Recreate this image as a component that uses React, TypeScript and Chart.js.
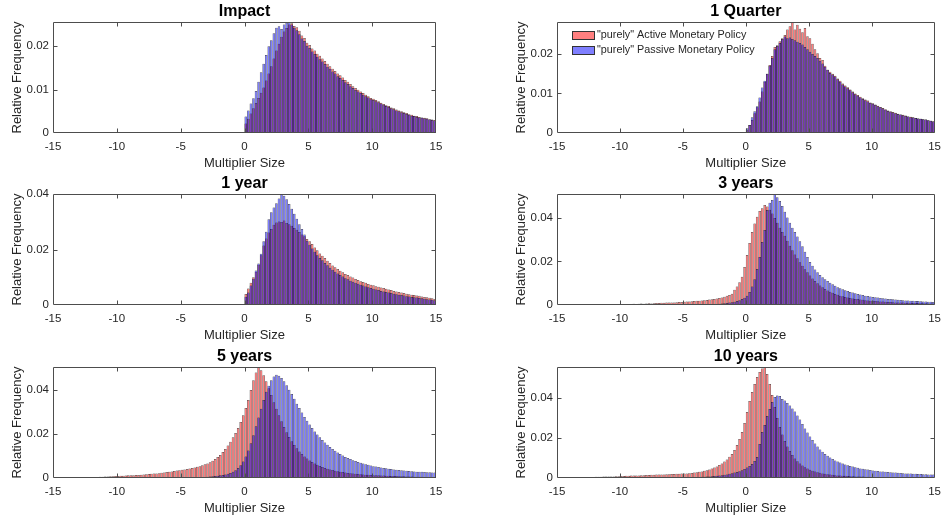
import React, { useEffect, useRef } from 'react';
import { Chart, registerables } from 'chart.js';

Chart.register(...registerables);

// ---------- data ----------
const BIN_WIDTH = 0.2;
const X_MIN = -15;
const X_MAX = 15;
const X_TICKS = [-15, -10, -5, 0, 5, 10, 15];
const SERIES_LABELS = ['"purely" Active Monetary Policy', '"purely" Passive Monetary Policy'];
const PANEL_TITLES = ['Impact', '1 Quarter', '1 year', '3 years', '5 years', '10 years'];
const Y_MAX = [0.0256, 0.0281, 0.0401, 0.051, 0.0505, 0.0555];
const Y_TICKS_SMALL = [0, 0.01, 0.02];
const Y_TICKS_LARGE = [0, 0.02, 0.04];
// centre of the first listed bin for each panel
const FIRST_BIN = [0.1, 0.1, 0.1, -14.9, -14.9, -14.9];

const impactActive = [
  0.0022, 0.0033, 0.0045, 0.0057, 0.0069, 0.0081, 0.0093, 0.0105, 0.0121, 0.0137,
  0.0154, 0.0172, 0.0190, 0.0206, 0.0222, 0.0234, 0.0242, 0.0250, 0.0253, 0.0247,
  0.0244, 0.0236, 0.0225, 0.0219, 0.0208, 0.0203, 0.0195, 0.0190, 0.0183, 0.0178,
  0.0172, 0.0166, 0.0160, 0.0154, 0.0148, 0.0143, 0.0137, 0.0133, 0.0128, 0.0122,
  0.0118, 0.0113, 0.0108, 0.0104, 0.0100, 0.0096, 0.0092, 0.0088, 0.0085, 0.0081,
  0.0079, 0.0076, 0.0073, 0.0070, 0.0067, 0.0064, 0.0062, 0.0059, 0.0057, 0.0054,
  0.0052, 0.0050, 0.0048, 0.0046, 0.0043, 0.0042, 0.0040, 0.0039, 0.0037, 0.0036,
  0.0035, 0.0034, 0.0032, 0.0031, 0.0030,
];
const impactPassive = [
  0.0038, 0.0052, 0.0068, 0.0080, 0.0097, 0.0118, 0.0140, 0.0160, 0.0180, 0.0200,
  0.0214, 0.0230, 0.0243, 0.0246, 0.0240, 0.0250, 0.0254, 0.0256, 0.0250, 0.0243,
  0.0237, 0.0228, 0.0218, 0.0212, 0.0201, 0.0196, 0.0188, 0.0182, 0.0176, 0.0170,
  0.0165, 0.0159, 0.0153, 0.0148, 0.0142, 0.0137, 0.0131, 0.0127, 0.0122, 0.0117,
  0.0113, 0.0108, 0.0104, 0.0099, 0.0096, 0.0092, 0.0088, 0.0085, 0.0082, 0.0078,
  0.0076, 0.0073, 0.0071, 0.0068, 0.0065, 0.0062, 0.0060, 0.0057, 0.0055, 0.0052,
  0.0050, 0.0048, 0.0046, 0.0044, 0.0042, 0.0040, 0.0039, 0.0037, 0.0036, 0.0035,
  0.0034, 0.0033, 0.0031, 0.0030, 0.0029,
];
const quarterActive = [
  0.0008, 0.0020, 0.0033, 0.0050, 0.0065, 0.0080, 0.0105, 0.0130, 0.0150, 0.0172,
  0.0195, 0.0218, 0.0222, 0.0232, 0.0240, 0.0248, 0.0262, 0.0270, 0.0281, 0.0262,
  0.0274, 0.0264, 0.0255, 0.0266, 0.0245, 0.0240, 0.0226, 0.0212, 0.0202, 0.0190,
  0.0185, 0.0170, 0.0160, 0.0155, 0.0150, 0.0145, 0.0138, 0.0132, 0.0125, 0.0120,
  0.0116, 0.0110, 0.0105, 0.0100, 0.0096, 0.0092, 0.0088, 0.0085, 0.0082, 0.0077,
  0.0075, 0.0072, 0.0069, 0.0066, 0.0063, 0.0060, 0.0057, 0.0055, 0.0053, 0.0051,
  0.0049, 0.0047, 0.0046, 0.0044, 0.0042, 0.0041, 0.0040, 0.0038, 0.0037, 0.0036,
  0.0035, 0.0034, 0.0032, 0.0031, 0.0030,
];
const quarterPassive = [
  0.0012, 0.0020, 0.0040, 0.0055, 0.0068, 0.0090, 0.0115, 0.0132, 0.0150, 0.0170,
  0.0190, 0.0212, 0.0220, 0.0228, 0.0238, 0.0244, 0.0240, 0.0242, 0.0238, 0.0235,
  0.0231, 0.0228, 0.0224, 0.0218, 0.0212, 0.0206, 0.0200, 0.0195, 0.0190, 0.0183,
  0.0176, 0.0168, 0.0160, 0.0152, 0.0148, 0.0143, 0.0136, 0.0130, 0.0123, 0.0118,
  0.0113, 0.0108, 0.0103, 0.0098, 0.0094, 0.0090, 0.0086, 0.0083, 0.0080, 0.0076,
  0.0074, 0.0071, 0.0068, 0.0065, 0.0062, 0.0059, 0.0056, 0.0054, 0.0052, 0.0050,
  0.0048, 0.0047, 0.0045, 0.0043, 0.0042, 0.0040, 0.0039, 0.0038, 0.0037, 0.0036,
  0.0035, 0.0034, 0.0032, 0.0031, 0.0029,
];
const year1Active = [
  0.0040, 0.0060, 0.0080, 0.0100, 0.0120, 0.0145, 0.0180, 0.0215, 0.0240, 0.0262,
  0.0275, 0.0290, 0.0298, 0.0302, 0.0300, 0.0305, 0.0296, 0.0292, 0.0286, 0.0278,
  0.0272, 0.0264, 0.0255, 0.0248, 0.0238, 0.0230, 0.0220, 0.0208, 0.0198, 0.0186,
  0.0178, 0.0170, 0.0160, 0.0152, 0.0143, 0.0136, 0.0130, 0.0124, 0.0118, 0.0112,
  0.0108, 0.0103, 0.0099, 0.0094, 0.0090, 0.0086, 0.0083, 0.0080, 0.0076, 0.0073,
  0.0071, 0.0068, 0.0066, 0.0063, 0.0061, 0.0059, 0.0056, 0.0054, 0.0051, 0.0049,
  0.0047, 0.0045, 0.0043, 0.0041, 0.0039, 0.0037, 0.0036, 0.0034, 0.0033, 0.0031,
  0.0029, 0.0028, 0.0026, 0.0024, 0.0022,
];
const year1Passive = [
  0.0030, 0.0045, 0.0070, 0.0095, 0.0125, 0.0150, 0.0185, 0.0230, 0.0265, 0.0310,
  0.0335, 0.0352, 0.0368, 0.0385, 0.0401, 0.0395, 0.0382, 0.0365, 0.0348, 0.0330,
  0.0312, 0.0292, 0.0275, 0.0255, 0.0232, 0.0218, 0.0204, 0.0192, 0.0180, 0.0170,
  0.0162, 0.0152, 0.0144, 0.0135, 0.0127, 0.0120, 0.0114, 0.0108, 0.0103, 0.0097,
  0.0093, 0.0088, 0.0084, 0.0080, 0.0077, 0.0073, 0.0070, 0.0067, 0.0064, 0.0061,
  0.0059, 0.0056, 0.0054, 0.0051, 0.0049, 0.0047, 0.0045, 0.0043, 0.0041, 0.0039,
  0.0037, 0.0036, 0.0034, 0.0032, 0.0031, 0.0029, 0.0028, 0.0027, 0.0025, 0.0024,
  0.0023, 0.0021, 0.0020, 0.0019, 0.0017,
];
const year3Active = [
  0, 0, 0, 0.0001, 0, 0, 0.0001, 0, 0.0001, 0.0001,
  0.0001, 0.0001, 0.0002, 0.0001, 0.0002, 0.0002, 0.0002, 0.0003, 0.0002, 0.0003,
  0.0003, 0.0003, 0.0004, 0.0003, 0.0004, 0.0004, 0.0005, 0.0004, 0.0005, 0.0005,
  0.0006, 0.0005, 0.0006, 0.0007, 0.0006, 0.0007, 0.0008, 0.0007, 0.0008, 0.0009,
  0.0009, 0.0010, 0.0010, 0.0011, 0.0011, 0.0012, 0.0012, 0.0013, 0.0014, 0.0014,
  0.0015, 0.0016, 0.0016, 0.0017, 0.0018, 0.0019, 0.0020, 0.0021, 0.0022, 0.0023,
  0.0025, 0.0026, 0.0028, 0.0030, 0.0032, 0.0035, 0.0038, 0.0042, 0.0046, 0.0052,
  0.0070, 0.0085, 0.0105, 0.0130, 0.0175, 0.0230, 0.0285, 0.0335, 0.0375, 0.0405,
  0.0432, 0.0445, 0.0460, 0.0452, 0.0438, 0.0420, 0.0400, 0.0378, 0.0355, 0.0335,
  0.0318, 0.0295, 0.0272, 0.0252, 0.0232, 0.0215, 0.0196, 0.0180, 0.0164, 0.0150,
  0.0136, 0.0122, 0.0110, 0.0100, 0.0090, 0.0082, 0.0074, 0.0067, 0.0061, 0.0056,
  0.0051, 0.0047, 0.0043, 0.0040, 0.0037, 0.0035, 0.0032, 0.0030, 0.0028, 0.0027,
  0.0025, 0.0024, 0.0022, 0.0021, 0.0020, 0.0019, 0.0018, 0.0017, 0.0016, 0.0016,
  0.0015, 0.0014, 0.0014, 0.0013, 0.0012, 0.0012, 0.0011, 0.0011, 0.0010, 0.0010,
  0.0010, 0.0009, 0.0009, 0.0009, 0.0008, 0.0008, 0.0008, 0.0007, 0.0007, 0.0007,
];
const year3Passive = [
  0, 0, 0, 0, 0, 0, 0, 0, 0, 0,
  0, 0, 0, 0, 0, 0, 0, 0, 0, 0,
  0, 0, 0, 0, 0, 0, 0, 0.0001, 0, 0,
  0, 0.0001, 0, 0, 0.0001, 0, 0.0001, 0, 0.0001, 0.0001,
  0.0001, 0, 0.0001, 0.0001, 0.0001, 0.0001, 0.0001, 0.0001, 0.0002, 0.0001,
  0.0001, 0.0001, 0.0002, 0.0001, 0.0002, 0.0002, 0.0002, 0.0003, 0.0003, 0.0003,
  0.0004, 0.0004, 0.0005, 0.0005, 0.0006, 0.0007, 0.0008, 0.0009, 0.0011, 0.0013,
  0.0015, 0.0018, 0.0022, 0.0027, 0.0033, 0.0042, 0.0060, 0.0085, 0.0118, 0.0165,
  0.0220, 0.0290, 0.0345, 0.0436, 0.0470, 0.0482, 0.0510, 0.0495, 0.0478, 0.0455,
  0.0428, 0.0402, 0.0378, 0.0355, 0.0335, 0.0315, 0.0293, 0.0270, 0.0245, 0.0220,
  0.0198, 0.0180, 0.0163, 0.0150, 0.0138, 0.0128, 0.0118, 0.0110, 0.0102, 0.0095,
  0.0088, 0.0082, 0.0077, 0.0072, 0.0068, 0.0064, 0.0060, 0.0057, 0.0054, 0.0051,
  0.0048, 0.0046, 0.0043, 0.0041, 0.0039, 0.0037, 0.0036, 0.0034, 0.0032, 0.0031,
  0.0030, 0.0028, 0.0027, 0.0026, 0.0025, 0.0024, 0.0023, 0.0022, 0.0021, 0.0021,
  0.0020, 0.0019, 0.0018, 0.0018, 0.0017, 0.0016, 0.0016, 0.0015, 0.0015, 0.0014,
];
const year5Active = [
  0.0001, 0.0001, 0.0002, 0.0001, 0.0002, 0.0002, 0.0002, 0.0003, 0.0002, 0.0003,
  0.0003, 0.0003, 0.0004, 0.0004, 0.0004, 0.0005, 0.0005, 0.0005, 0.0006, 0.0006,
  0.0007, 0.0007, 0.0008, 0.0008, 0.0009, 0.0009, 0.0010, 0.0010, 0.0011, 0.0012,
  0.0012, 0.0013, 0.0014, 0.0014, 0.0015, 0.0016, 0.0017, 0.0018, 0.0019, 0.0020,
  0.0021, 0.0022, 0.0024, 0.0025, 0.0027, 0.0028, 0.0030, 0.0032, 0.0034, 0.0035,
  0.0037, 0.0039, 0.0041, 0.0043, 0.0045, 0.0048, 0.0051, 0.0054, 0.0058, 0.0062,
  0.0066, 0.0072, 0.0078, 0.0086, 0.0095, 0.0105, 0.0118, 0.0132, 0.0148, 0.0165,
  0.0185, 0.0205, 0.0228, 0.0255, 0.0285, 0.0318, 0.0355, 0.0400, 0.0445, 0.0480,
  0.0505, 0.0490, 0.0468, 0.0440, 0.0408, 0.0378, 0.0345, 0.0315, 0.0285, 0.0258,
  0.0232, 0.0208, 0.0186, 0.0167, 0.0150, 0.0135, 0.0121, 0.0109, 0.0098, 0.0089,
  0.0080, 0.0073, 0.0066, 0.0060, 0.0055, 0.0050, 0.0046, 0.0042, 0.0039, 0.0036,
  0.0033, 0.0031, 0.0029, 0.0027, 0.0025, 0.0023, 0.0022, 0.0021, 0.0019, 0.0018,
  0.0017, 0.0016, 0.0015, 0.0015, 0.0014, 0.0013, 0.0013, 0.0012, 0.0011, 0.0011,
  0.0010, 0.0010, 0.0009, 0.0009, 0.0009, 0.0008, 0.0008, 0.0008, 0.0007, 0.0007,
  0.0007, 0.0006, 0.0006, 0.0006, 0.0006, 0.0005, 0.0005, 0.0005, 0.0005, 0.0004,
];
const year5Passive = [
  0, 0, 0, 0, 0, 0, 0, 0, 0, 0,
  0, 0, 0, 0, 0, 0, 0, 0, 0, 0,
  0, 0, 0, 0, 0.0001, 0, 0, 0, 0.0001, 0,
  0.0001, 0, 0.0001, 0.0001, 0, 0.0001, 0.0001, 0.0001, 0.0001, 0.0001,
  0.0001, 0.0001, 0.0001, 0.0002, 0.0001, 0.0002, 0.0002, 0.0002, 0.0002, 0.0002,
  0.0002, 0.0002, 0.0002, 0.0003, 0.0003, 0.0003, 0.0004, 0.0004, 0.0005, 0.0005,
  0.0006, 0.0007, 0.0008, 0.0009, 0.0010, 0.0012, 0.0014, 0.0016, 0.0019, 0.0023,
  0.0028, 0.0035, 0.0045, 0.0058, 0.0075, 0.0098, 0.0125, 0.0158, 0.0195, 0.0235,
  0.0275, 0.0315, 0.0355, 0.0392, 0.0420, 0.0445, 0.0462, 0.0470, 0.0465, 0.0455,
  0.0440, 0.0422, 0.0402, 0.0382, 0.0360, 0.0338, 0.0318, 0.0298, 0.0278, 0.0260,
  0.0243, 0.0227, 0.0212, 0.0198, 0.0185, 0.0173, 0.0161, 0.0151, 0.0141, 0.0132,
  0.0124, 0.0116, 0.0109, 0.0102, 0.0096, 0.0091, 0.0086, 0.0081, 0.0077, 0.0073,
  0.0069, 0.0066, 0.0063, 0.0060, 0.0057, 0.0054, 0.0052, 0.0050, 0.0048, 0.0046,
  0.0044, 0.0042, 0.0041, 0.0039, 0.0038, 0.0036, 0.0035, 0.0034, 0.0033, 0.0032,
  0.0031, 0.0030, 0.0029, 0.0028, 0.0028, 0.0027, 0.0026, 0.0026, 0.0025, 0.0025,
];
const year10Active = [
  0.0002, 0.0002, 0.0003, 0.0002, 0.0003, 0.0003, 0.0003, 0.0004, 0.0003, 0.0004,
  0.0004, 0.0004, 0.0005, 0.0005, 0.0005, 0.0006, 0.0006, 0.0006, 0.0007, 0.0007,
  0.0008, 0.0008, 0.0008, 0.0009, 0.0009, 0.0010, 0.0010, 0.0011, 0.0011, 0.0012,
  0.0012, 0.0013, 0.0013, 0.0014, 0.0014, 0.0015, 0.0015, 0.0016, 0.0016, 0.0017,
  0.0017, 0.0018, 0.0018, 0.0019, 0.0019, 0.0020, 0.0020, 0.0021, 0.0021, 0.0022,
  0.0022, 0.0023, 0.0024, 0.0025, 0.0027, 0.0029, 0.0031, 0.0033, 0.0036, 0.0039,
  0.0043, 0.0047, 0.0052, 0.0058, 0.0065, 0.0073, 0.0082, 0.0093, 0.0106, 0.0120,
  0.0140, 0.0165, 0.0195, 0.0230, 0.0275, 0.0330, 0.0385, 0.0430, 0.0470, 0.0505,
  0.0530, 0.0548, 0.0555, 0.0520, 0.0470, 0.0415, 0.0355, 0.0300, 0.0255, 0.0218,
  0.0185, 0.0158, 0.0135, 0.0115, 0.0098, 0.0084, 0.0072, 0.0062, 0.0054, 0.0047,
  0.0041, 0.0036, 0.0032, 0.0029, 0.0026, 0.0023, 0.0021, 0.0019, 0.0017, 0.0016,
  0.0014, 0.0013, 0.0012, 0.0011, 0.0011, 0.0010, 0.0009, 0.0009, 0.0008, 0.0008,
  0.0007, 0.0007, 0.0006, 0.0006, 0.0006, 0.0005, 0.0005, 0.0005, 0.0005, 0.0004,
  0.0004, 0.0004, 0.0004, 0.0004, 0.0003, 0.0003, 0.0003, 0.0003, 0.0003, 0.0003,
  0.0003, 0.0002, 0.0002, 0.0002, 0.0002, 0.0002, 0.0002, 0.0002, 0.0002, 0.0002,
];
const year10Passive = [
  0, 0, 0, 0, 0, 0, 0, 0, 0, 0,
  0, 0, 0, 0, 0, 0, 0, 0, 0, 0,
  0, 0, 0, 0, 0, 0, 0, 0, 0, 0,
  0, 0, 0, 0.0001, 0, 0, 0.0001, 0, 0, 0.0001,
  0.0001, 0.0001, 0.0001, 0.0001, 0.0001, 0.0002, 0.0002, 0.0002, 0.0002, 0.0003,
  0.0003, 0.0003, 0.0004, 0.0004, 0.0004, 0.0005, 0.0005, 0.0006, 0.0006, 0.0007,
  0.0008, 0.0009, 0.0010, 0.0011, 0.0012, 0.0014, 0.0016, 0.0018, 0.0021, 0.0024,
  0.0027, 0.0030, 0.0034, 0.0039, 0.0045, 0.0052, 0.0060, 0.0070, 0.0085, 0.0105,
  0.0170, 0.0230, 0.0265, 0.0310, 0.0345, 0.0380, 0.0405, 0.0412, 0.0410, 0.0395,
  0.0388, 0.0375, 0.0362, 0.0348, 0.0332, 0.0312, 0.0292, 0.0270, 0.0248, 0.0228,
  0.0208, 0.0190, 0.0172, 0.0157, 0.0143, 0.0131, 0.0120, 0.0111, 0.0102, 0.0095,
  0.0088, 0.0082, 0.0077, 0.0072, 0.0068, 0.0064, 0.0060, 0.0057, 0.0054, 0.0051,
  0.0048, 0.0046, 0.0044, 0.0042, 0.0040, 0.0038, 0.0036, 0.0035, 0.0033, 0.0032,
  0.0031, 0.0030, 0.0029, 0.0028, 0.0027, 0.0026, 0.0025, 0.0024, 0.0023, 0.0023,
  0.0022, 0.0021, 0.0021, 0.0020, 0.0020, 0.0019, 0.0019, 0.0018, 0.0018, 0.0017,
];

const ACTIVE_SERIES = [impactActive, quarterActive, year1Active, year3Active, year5Active, year10Active];
const PASSIVE_SERIES = [impactPassive, quarterPassive, year1Passive, year3Passive, year5Passive, year10Passive];
const Y_TICK_SETS = [Y_TICKS_SMALL, Y_TICKS_SMALL, Y_TICKS_LARGE, Y_TICKS_LARGE, Y_TICKS_LARGE, Y_TICKS_LARGE];
const LEGEND_PANEL = 1;

// ---------- styles ----------
const FONT = 'Arial, "Liberation Sans", Helvetica, sans-serif';
const TEXT_COLOR = '#262626';
const AXIS_COLOR = '#4d4d4d';
const ACTIVE_FILL = 'rgba(255,0,0,0.5)';
const PASSIVE_FILL = 'rgba(0,0,255,0.5)';
const EDGE_COLOR = 'rgba(0,0,0,0.85)';
const CANVAS_W = 474;
const CANVAS_H = 173;
const ROW_TOPS = [0, 172, 345];

Chart.defaults.font.family = FONT;

function toPoints(values: number[], first: number) {
  return values.map((v, i) => ({ x: Math.round((first + i * BIN_WIDTH) * 1000) / 1000, y: v }));
}

const clamp = (v: number, lo: number, hi: number) => Math.min(hi, Math.max(lo, v));

const framePlugin = {
  id: 'matlabFrame',
  afterDatasetsDraw(chart: any, _args: any, opts: any) {
    const { ctx, chartArea } = chart;
    const { left, right, top, bottom } = chartArea;
    const xs = chart.scales.x;
    const ys = chart.scales.y;
    const L = Math.round(left) + 0.5;
    const R = Math.round(right) - 0.5;
    const T = Math.round(top) + 0.5;
    const B = Math.round(bottom) - 0.5;
    const tl = 4;
    ctx.save();
    ctx.strokeStyle = AXIS_COLOR;
    ctx.lineWidth = 1;
    ctx.beginPath();
    ctx.rect(L, T, R - L, B - T);
    X_TICKS.forEach((v) => {
      const px = clamp(Math.round(xs.getPixelForValue(v)) + 0.5, L, R);
      if (px === L || px === R) return;
      ctx.moveTo(px, B);
      ctx.lineTo(px, B - tl);
      ctx.moveTo(px, T);
      ctx.lineTo(px, T + tl);
    });
    (opts.yTicks as number[]).forEach((v) => {
      const py = clamp(Math.round(ys.getPixelForValue(v)) + 0.5, T, B);
      if (py === T || py === B) return;
      ctx.moveTo(L, py);
      ctx.lineTo(L + tl, py);
      ctx.moveTo(R, py);
      ctx.lineTo(R - tl, py);
    });
    ctx.stroke();

    // title
    ctx.fillStyle = '#000';
    ctx.font = `bold 16px ${FONT}`;
    ctx.textAlign = 'center';
    ctx.textBaseline = 'middle';
    ctx.fillText(opts.title, (left + right) / 2, 12);

    // legend
    if (opts.legend) {
      const items = chart.data.datasets;
      const rowY = [35.5, 50.5];
      ctx.font = `10.8px ${FONT}`;
      ctx.textAlign = 'left';
      items.forEach((ds: any, i: number) => {
        const sx = Math.round(left) + 15;
        const sy = Math.round(rowY[i] - 4.5);
        ctx.fillStyle = ds.backgroundColor;
        ctx.fillRect(sx, sy, 23, 9);
        ctx.strokeStyle = '#333';
        ctx.lineWidth = 1;
        ctx.strokeRect(sx + 0.5, sy + 0.5, 22, 8);
        ctx.fillStyle = TEXT_COLOR;
        ctx.fillText(ds.label, sx + 25, rowY[i]);
      });
    }
    ctx.restore();
  },
};

function Panel({ index }: { index: number }) {
  const ref = useRef<HTMLCanvasElement>(null);
  const col = index % 2;
  const row = Math.floor(index / 2);
  useEffect(() => {
    if (!ref.current) return;
    const first = FIRST_BIN[index];
    const yTicks = Y_TICK_SETS[index];
    const chart = new Chart(ref.current, {
      type: 'bar',
      data: {
        datasets: [
          {
            label: SERIES_LABELS[0],
            data: toPoints(ACTIVE_SERIES[index], first) as any,
            backgroundColor: ACTIVE_FILL,
            borderColor: EDGE_COLOR,
            borderWidth: 0.5,
            order: 2,
          },
          {
            label: SERIES_LABELS[1],
            data: toPoints(PASSIVE_SERIES[index], first) as any,
            backgroundColor: PASSIVE_FILL,
            borderColor: EDGE_COLOR,
            borderWidth: 0.5,
            order: 1,
          },
        ],
      },
      options: {
        animation: false,
        responsive: false,
        events: [],
        layout: { padding: { top: 22, bottom: 0, left: col === 0 ? 0 : 30, right: col === 0 ? 38 : 9 } },
        datasets: {
          bar: {
            grouped: false,
            barPercentage: 1,
            categoryPercentage: 1,
            inflateAmount: 0,
            borderSkipped: 'start',
          },
        } as any,
        plugins: {
          legend: { display: false },
          tooltip: { enabled: false },
          matlabFrame: { title: PANEL_TITLES[index], yTicks, legend: index === LEGEND_PANEL },
        } as any,
        scales: {
          x: {
            type: 'linear',
            min: X_MIN,
            max: X_MAX,
            offset: false,
            grid: { display: false, drawTicks: false },
            border: { display: false },
            afterBuildTicks: (s: any) => {
              s.ticks = X_TICKS.map((v) => ({ value: v }));
            },
            afterFit: (s: any) => {
              s.height = 40;
            },
            ticks: {
              padding: 7,
              color: TEXT_COLOR,
              font: { size: 11.5 },
              autoSkip: false,
              maxRotation: 0,
              callback: (v: any) => String(v),
            },
            title: {
              display: true,
              text: 'Multiplier Size',
              color: TEXT_COLOR,
              font: { size: 13 },
              padding: { top: 0, bottom: 2 },
            },
          },
          y: {
            type: 'linear',
            min: 0,
            max: Y_MAX[index],
            grid: { display: false, drawTicks: false },
            border: { display: false },
            afterBuildTicks: (s: any) => {
              s.ticks = yTicks.map((v) => ({ value: v }));
            },
            afterFit: (s: any) => {
              s.width = 53;
            },
            ticks: {
              padding: 4,
              color: TEXT_COLOR,
              font: { size: 11.5 },
              autoSkip: false,
              callback: (v: any) => (v === 0 ? '0' : Number(v).toFixed(2)),
            },
            title: {
              display: true,
              text: 'Relative Frequency',
              color: TEXT_COLOR,
              font: { size: 13 },
              padding: { top: 10, bottom: 0 },
            },
          },
        },
      } as any,
      plugins: [framePlugin],
    });
    return () => chart.destroy();
  }, [index]);

  return (
    <div style={{ position: 'absolute', left: col * CANVAS_W, top: ROW_TOPS[row], width: CANVAS_W, height: CANVAS_H }}>
      <canvas ref={ref} width={CANVAS_W} height={CANVAS_H} style={{ display: 'block' }} />
    </div>
  );
}

export default function App() {
  return (
    <div style={{ position: 'absolute', left: 0, top: 0, width: 948, height: 518, background: '#fff', overflow: 'hidden' }}>
      {PANEL_TITLES.map((_, i) => (
        <Panel key={i} index={i} />
      ))}
    </div>
  );
}
